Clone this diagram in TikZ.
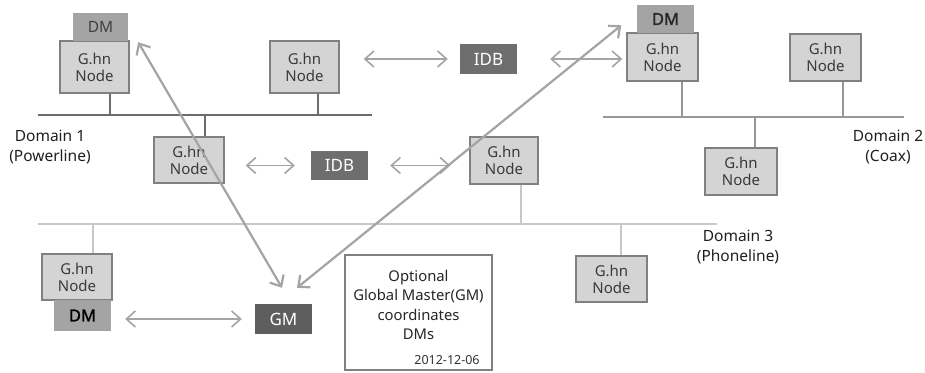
\documentclass[tikz,border=0pt]{standalone}
\usepackage{fontspec}
\setmainfont{Noto Sans}
\newfontfamily\heavyfont{Noto Sans}[FakeBold=1.6]
\usetikzlibrary{arrows.meta}

\definecolor{nodefill}{HTML}{D4D4D4}
\definecolor{nodeline}{HTML}{808080}
\definecolor{dmfill}{HTML}{A4A4A4}
\definecolor{idbfill}{HTML}{6E6E6E}
\definecolor{gmfill}{HTML}{5E5E5E}
\definecolor{arrowgrey}{HTML}{A4A4A4}
\definecolor{busone}{HTML}{6C6C6C}
\definecolor{bustwo}{HTML}{979797}
\definecolor{busthree}{HTML}{C8C8C8}
\definecolor{textgrey}{HTML}{3A3A3A}

\tikzset{
  ghn/.style={draw=nodeline, fill=nodefill, line width=1.4pt, inner sep=0pt,
    align=center, text=textgrey, font=\fontsize{15}{17}\selectfont},
  dmbox/.style={fill=dmfill, inner sep=0pt, align=center,
    font=\heavyfont\fontsize{16.5}{18}\selectfont, text=black!85},
  darkbox/.style={inner sep=0pt, text=white, font=\fontsize{17}{18}\selectfont},
  domainlabel/.style={align=center, inner sep=0pt, text=black!88,
    font=\fontsize{15.5}{20.5}\selectfont},
  busline/.style={line width=2.6pt},
  stubline/.style={line width=2pt},
  biarrow/.style={draw=arrowgrey, line width=1.6pt,
    {Straight Barb[length=9pt,width=16pt]}-{Straight Barb[length=9pt,width=16pt]}},
  longarrow/.style={draw=arrowgrey, line width=2.2pt,
    {Straight Barb[length=9pt,width=16pt]}-{Straight Barb[length=9pt,width=16pt]}}
}

\begin{document}
\begin{tikzpicture}[x=1pt,y=-1pt]
\fill[white] (0,0) rectangle (925,372);
\useasboundingbox (0,0) rectangle (925,372);

% ---------------- Domain 1 (Powerline) ----------------
\coordinate (b1w) at (38,115);
\coordinate (b1e) at (372,115);
\coordinate (t11) at (110,115);
\coordinate (t12) at (318,115);
\coordinate (t13) at (205,115);

\node[ghn, minimum width=69pt, minimum height=52pt] (N1) at (94.5,67) {G.hn\\Node};
\node[dmbox, minimum width=55pt, minimum height=28pt,
      font=\fontsize{15.5}{18}\selectfont, text=black!75] (DM1) at (100.5,27) {DM};
\node[ghn, minimum width=69pt, minimum height=52pt] (N2) at (304.5,67) {G.hn\\Node};
\node[ghn, minimum width=70pt, minimum height=46pt] (N3) at (189,160) {G.hn\\Node};

\draw[busone, busline] (b1w) -- (b1e);
\draw[busone, stubline] (N1.south -| t11) -- (t11);
\draw[busone, stubline] (N2.south -| t12) -- (t12);
\draw[busone, stubline] (t13) -- (N3.north -| t13);

\node[domainlabel] (D1) at (50,147) {Domain 1\\(Powerline)};

% ---------------- Domain 2 (Coax) ----------------
\coordinate (b2w) at (603,117);
\coordinate (b2e) at (904,117);
\coordinate (t21) at (682,117);
\coordinate (t22) at (843,117);
\coordinate (t23) at (755,117);

\node[ghn, minimum width=71pt, minimum height=48pt] (N4) at (662.5,57) {G.hn\\Node};
\node[dmbox, minimum width=57pt, minimum height=28pt] (DM2) at (665.5,19) {DM};
\node[ghn, minimum width=71pt, minimum height=47pt] (N5) at (825.5,57.5) {G.hn\\Node};
\node[ghn, minimum width=72pt, minimum height=47pt] (N6) at (741,171.5) {G.hn\\Node};

\draw[bustwo, busline] (b2w) -- (b2e);
\draw[bustwo, stubline] (N4.south -| t21) -- (t21);
\draw[bustwo, stubline] (N5.south -| t22) -- (t22);
\draw[bustwo, stubline] (t23) -- (N6.north -| t23);

\node[domainlabel] (D2) at (888,147) {Domain 2\\(Coax)};

% ---------------- Domain 3 (Phoneline) ----------------
\coordinate (b3w) at (38,224);
\coordinate (b3e) at (717,224);
\coordinate (t31) at (521,224);
\coordinate (t32) at (93,224);
\coordinate (t33) at (621,224);

\node[ghn, minimum width=68pt, minimum height=47pt] (N7) at (504,160.5) {G.hn\\Node};
\node[ghn, minimum width=70pt, minimum height=46pt] (N8) at (77,277) {G.hn\\Node};
\node[dmbox, minimum width=57pt, minimum height=31pt, text=black] (DM3) at (82.5,315.5) {DM};
\node[ghn, minimum width=71pt, minimum height=46pt] (N9) at (611.5,279) {G.hn\\Node};

\draw[busthree, busline, line width=2.8pt] (b3w) -- (b3e);
\draw[busthree, stubline] (N7.south -| t31) -- (t31);
\draw[busthree, stubline] (t32) -- (N8.north -| t32);
\draw[busthree, stubline] (t33) -- (N9.north -| t33);

\node[domainlabel] (D3) at (738,247) {Domain 3\\(Phoneline)};

% ---------------- Inter-domain bridges and global master ----------------
\node[darkbox, fill=idbfill, minimum width=57pt, minimum height=30pt] (IDBt) at (488.5,59) {IDB};
\node[darkbox, fill=idbfill, minimum width=57pt, minimum height=29pt] (IDBl) at (339.5,165.5) {IDB};
\node[darkbox, fill=gmfill, minimum width=57pt, minimum height=30pt] (GM) at (283.5,319) {GM};

% note box
\node[draw=nodeline, line width=1.4pt, fill=white, minimum width=147pt,
      minimum height=115pt, inner sep=0pt] (note) at (418.5,312.5) {};
\node[align=center, inner sep=0pt, text=black!85,
      font=\fontsize{14.8}{19.5}\selectfont] (notetext) at (418.5,305)
      {Optional\\Global Master(GM)\\coordinates\\DMs};
\node[inner sep=0pt, text=black!80, font=\fontsize{12.5}{14}\selectfont]
      (date) at (447,360) {2012-12-06};

% ---------------- Connectors ----------------
\draw[biarrow] ([xshift=24pt]N2.east |- IDBt.west) -- ([xshift=-12pt]IDBt.west);
\draw[biarrow] ([xshift=33pt]IDBt.east) -- ([xshift=-4pt]N4.west |- IDBt.east);
\draw[biarrow] ([xshift=21pt]N3.east |- IDBl.west) -- ([xshift=-16pt]IDBl.west);
\draw[biarrow] ([xshift=22pt]IDBl.east) -- ([xshift=-19pt]N7.west |- IDBl.east);
\draw[biarrow] ([xshift=14pt]DM3.east |- GM.west) -- ([xshift=-13pt]GM.west);

\draw[longarrow] ([shift={(-1.5,-16)}]GM.north) -- ([shift={(10,1)}]DM1.south east);
\draw[longarrow] ([shift={(13.5,-16)}]GM.north) -- ([shift={(-5,-7)}]N4.north west);
\end{tikzpicture}
\end{document}
